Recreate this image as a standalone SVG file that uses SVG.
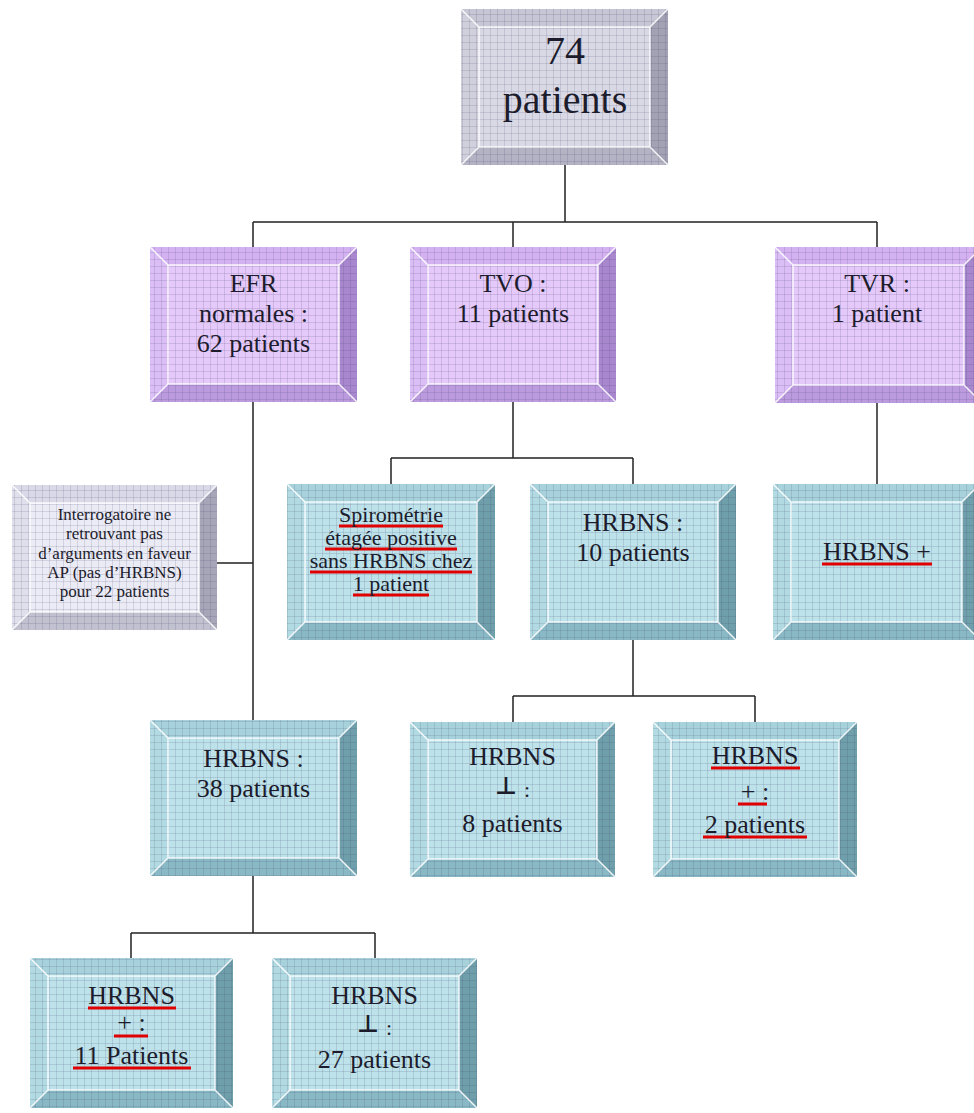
<svg xmlns="http://www.w3.org/2000/svg" width="974" height="1113" viewBox="0 0 974 1113">
<style>
.gray .f{fill:#d9d9e6}.gray .t{fill:#c6c6d4}.gray .l{fill:#d0d0dd}.gray .r{fill:#a2a2b4}.gray .b{fill:#b3b3c3}
.purple .f{fill:#e4c9fa}.purple .t{fill:#d4b2f2}.purple .l{fill:#dabef5}.purple .r{fill:#a987cf}.purple .b{fill:#bb9ade}
.teal .f{fill:#bde2ea}.teal .t{fill:#a7d2dc}.teal .l{fill:#b2dae2}.teal .r{fill:#6e9fab}.teal .b{fill:#89b9c5}
.light .f{fill:#ebebf5}.light .t{fill:#d9d9e7}.light .l{fill:#e0e0ec}.light .r{fill:#a6a6b8}.light .b{fill:#c1c1d0}
.grid{fill:url(#grid)}
.w{fill:none;stroke:#ffffff;stroke-width:1.5;opacity:0.85}
text{font-family:'Liberation Serif','DejaVu Serif',serif;fill:#1c1c2c;text-anchor:middle}
.big{font-size:40px}
.m{font-size:26px}
.s{font-size:22px}
.xs{font-size:17px}
.perp{font-size:24px;font-weight:bold;font-family:'DejaVu Sans',sans-serif}
.colon{font-size:22px}
.conn{fill:none;stroke:#222222;stroke-width:1.5}
.ul{stroke:#e00000;stroke-width:3;fill:none}
</style>
<defs>
<pattern id="grid" width="7" height="7" patternUnits="userSpaceOnUse">
<path d="M0 0.5H7M0.5 0V7" stroke="#3c3c64" stroke-opacity="0.15" stroke-width="1" fill="none"/>
</pattern>
</defs>
<rect width="974" height="1113" fill="#ffffff"/>

<g id="connectors">
<path class="conn" d="M565 165V222M253 222H877M253 222V247M513 222V247M877 222V247"/>
<path class="conn" d="M253 402V720M217 563H253"/>
<path class="conn" d="M513 402V458M391 458H633M391 458V484M633 458V484"/>
<path class="conn" d="M877 403V484"/>
<path class="conn" d="M633 640V696M513 696H755M513 696V722M755 696V722"/>
<path class="conn" d="M253 876V933M131 933H375M131 933V958M375 933V958"/>
</g>

<g id="n-74" class="gray">
<polygon class="t" points="461,9 668,9 650,27 479,27"/>
<polygon class="l" points="461,9 479,27 479,147 461,165"/>
<polygon class="r" points="668,9 668,165 650,147 650,27"/>
<polygon class="b" points="461,165 479,147 650,147 668,165"/>
<rect class="f" x="479" y="27" width="171" height="120"/>
<rect class="grid" x="461" y="9" width="207" height="156"/>
<path class="w" d="M479 27H650V147H479ZM461 9L479 27M668 9L650 27M461 165L479 147M668 165L650 147"/>
<text class="big" x="565" y="64">74</text>
<text class="big" x="565" y="113">patients</text>
</g>

<g id="n-efr" class="purple">
<polygon class="t" points="150,247 357,247 339,265 168,265"/>
<polygon class="l" points="150,247 168,265 168,384 150,402"/>
<polygon class="r" points="357,247 357,402 339,384 339,265"/>
<polygon class="b" points="150,402 168,384 339,384 357,402"/>
<rect class="f" x="168" y="265" width="171" height="119"/>
<rect class="grid" x="150" y="247" width="207" height="155"/>
<path class="w" d="M168 265H339V384H168ZM150 247L168 265M357 247L339 265M150 402L168 384M357 402L339 384"/>
<text class="m" x="253.5" y="292">EFR</text>
<text class="m" x="253.5" y="322">normales :</text>
<text class="m" x="253.5" y="352">62 patients</text>
</g>

<g id="n-tvo" class="purple">
<polygon class="t" points="410,247 616,247 598,265 428,265"/>
<polygon class="l" points="410,247 428,265 428,384 410,402"/>
<polygon class="r" points="616,247 616,402 598,384 598,265"/>
<polygon class="b" points="410,402 428,384 598,384 616,402"/>
<rect class="f" x="428" y="265" width="170" height="119"/>
<rect class="grid" x="410" y="247" width="206" height="155"/>
<path class="w" d="M428 265H598V384H428ZM410 247L428 265M616 247L598 265M410 402L428 384M616 402L598 384"/>
<text class="m" x="513" y="292">TVO :</text>
<text class="m" x="513" y="322">11 patients</text>
</g>

<g id="n-tvr" class="purple">
<polygon class="t" points="775,247 982,247 964,265 793,265"/>
<polygon class="l" points="775,247 793,265 793,385 775,403"/>
<polygon class="r" points="982,247 982,403 964,385 964,265"/>
<polygon class="b" points="775,403 793,385 964,385 982,403"/>
<rect class="f" x="793" y="265" width="171" height="120"/>
<rect class="grid" x="775" y="247" width="207" height="156"/>
<path class="w" d="M793 265H964V385H793ZM775 247L793 265M982 247L964 265M775 403L793 385M982 403L964 385"/>
<text class="m" x="877" y="292">TVR :</text>
<text class="m" x="877" y="322">1 patient</text>
</g>

<g id="n-interrogatoire" class="light">
<polygon class="t" points="12,485 217,485 199,503 30,503"/>
<polygon class="l" points="12,485 30,503 30,612 12,630"/>
<polygon class="r" points="217,485 217,630 199,612 199,503"/>
<polygon class="b" points="12,630 30,612 199,612 217,630"/>
<rect class="f" x="30" y="503" width="169" height="109"/>
<rect class="grid" x="12" y="485" width="205" height="145"/>
<path class="w" d="M30 503H199V612H30ZM12 485L30 503M217 485L199 503M12 630L30 612M217 630L199 612"/>
<text class="xs" x="114.5" y="520">Interrogatoire ne</text>
<text class="xs" x="114.5" y="539">retrouvant pas</text>
<text class="xs" x="114.5" y="559">d’arguments en faveur</text>
<text class="xs" x="114.5" y="578">AP (pas d’HRBNS)</text>
<text class="xs" x="114.5" y="597">pour 22 patients</text>
</g>

<g id="n-spirometrie" class="teal">
<polygon class="t" points="287,484 495,484 477,502 305,502"/>
<polygon class="l" points="287,484 305,502 305,622 287,640"/>
<polygon class="r" points="495,484 495,640 477,622 477,502"/>
<polygon class="b" points="287,640 305,622 477,622 495,640"/>
<rect class="f" x="305" y="502" width="172" height="120"/>
<rect class="grid" x="287" y="484" width="208" height="156"/>
<path class="w" d="M305 502H477V622H305ZM287 484L305 502M495 484L477 502M287 640L305 622M495 640L477 622"/>
<path class="ul" d="M339 526H443M325 549H457M310 572H472M353 595H429"/>
<text class="s" x="391" y="522">Spirométrie</text>
<text class="s" x="391" y="545">étagée positive</text>
<text class="s" x="391" y="568">sans HRBNS chez</text>
<text class="s" x="391" y="591">1 patient</text>
</g>

<g id="n-hrbns10" class="teal">
<polygon class="t" points="530,484 736,484 718,502 548,502"/>
<polygon class="l" points="530,484 548,502 548,622 530,640"/>
<polygon class="r" points="736,484 736,640 718,622 718,502"/>
<polygon class="b" points="530,640 548,622 718,622 736,640"/>
<rect class="f" x="548" y="502" width="170" height="120"/>
<rect class="grid" x="530" y="484" width="206" height="156"/>
<path class="w" d="M548 502H718V622H548ZM530 484L548 502M736 484L718 502M530 640L548 622M736 640L718 622"/>
<text class="m" x="633" y="531">HRBNS :</text>
<text class="m" x="633" y="561">10 patients</text>
</g>

<g id="n-hrbns-plus-tvr" class="teal">
<polygon class="t" points="773,484 980,484 962,502 791,502"/>
<polygon class="l" points="773,484 791,502 791,622 773,640"/>
<polygon class="r" points="980,484 980,640 962,622 962,502"/>
<polygon class="b" points="773,640 791,622 962,622 980,640"/>
<rect class="f" x="791" y="502" width="171" height="120"/>
<rect class="grid" x="773" y="484" width="207" height="156"/>
<path class="w" d="M791 502H962V622H791ZM773 484L791 502M980 484L962 502M773 640L791 622M980 640L962 622"/>
<path class="ul" d="M822 564H932"/>
<text class="m" x="877" y="560">HRBNS +</text>
</g>

<g id="n-hrbns38" class="teal">
<polygon class="t" points="150,720 357,720 339,738 168,738"/>
<polygon class="l" points="150,720 168,738 168,858 150,876"/>
<polygon class="r" points="357,720 357,876 339,858 339,738"/>
<polygon class="b" points="150,876 168,858 339,858 357,876"/>
<rect class="f" x="168" y="738" width="171" height="120"/>
<rect class="grid" x="150" y="720" width="207" height="156"/>
<path class="w" d="M168 738H339V858H168ZM150 720L168 738M357 720L339 738M150 876L168 858M357 876L339 858"/>
<text class="m" x="253.5" y="767">HRBNS :</text>
<text class="m" x="253.5" y="797">38 patients</text>
</g>

<g id="n-hrbns-neg8" class="teal">
<polygon class="t" points="410,722 615,722 597,740 428,740"/>
<polygon class="l" points="410,722 428,740 428,859 410,877"/>
<polygon class="r" points="615,722 615,877 597,859 597,740"/>
<polygon class="b" points="410,877 428,859 597,859 615,877"/>
<rect class="f" x="428" y="740" width="169" height="119"/>
<rect class="grid" x="410" y="722" width="205" height="155"/>
<path class="w" d="M428 740H597V859H428ZM410 722L428 740M615 722L597 740M410 877L428 859M615 877L597 859"/>
<text class="m" x="512.5" y="765">HRBNS</text>
<text class="perp" x="506" y="794">⊥</text>
<text class="colon" x="527" y="797">:</text>
<text class="m" x="512.5" y="832">8 patients</text>
</g>

<g id="n-hrbns-pos2" class="teal">
<polygon class="t" points="653,722 857,722 839,740 671,740"/>
<polygon class="l" points="653,722 671,740 671,859 653,877"/>
<polygon class="r" points="857,722 857,877 839,859 839,740"/>
<polygon class="b" points="653,877 671,859 839,859 857,877"/>
<rect class="f" x="671" y="740" width="168" height="119"/>
<rect class="grid" x="653" y="722" width="204" height="155"/>
<path class="w" d="M671 740H839V859H671ZM653 722L671 740M857 722L839 740M653 877L671 859M857 877L839 859"/>
<path class="ul" d="M711 768H800M738 804H767M703 837H807"/>
<text class="m" x="755" y="764">HRBNS</text>
<text class="m" x="755" y="800">+ :</text>
<text class="m" x="755" y="833">2 patients</text>
</g>

<g id="n-hrbns-pos11" class="teal">
<polygon class="t" points="30,958 233,958 215,976 48,976"/>
<polygon class="l" points="30,958 48,976 48,1090 30,1108"/>
<polygon class="r" points="233,958 233,1108 215,1090 215,976"/>
<polygon class="b" points="30,1108 48,1090 215,1090 233,1108"/>
<rect class="f" x="48" y="976" width="167" height="114"/>
<rect class="grid" x="30" y="958" width="203" height="150"/>
<path class="w" d="M48 976H215V1090H48ZM30 958L48 976M233 958L215 976M30 1108L48 1090M233 1108L215 1090"/>
<path class="ul" d="M88 1008H176M114 1036H148M73 1068H191"/>
<text class="m" x="131.5" y="1004">HRBNS</text>
<text class="m" x="131.5" y="1031">+ :</text>
<text class="m" x="131.5" y="1064">11 Patients</text>
</g>

<g id="n-hrbns-neg27" class="teal">
<polygon class="t" points="272,958 477,958 459,976 290,976"/>
<polygon class="l" points="272,958 290,976 290,1090 272,1108"/>
<polygon class="r" points="477,958 477,1108 459,1090 459,976"/>
<polygon class="b" points="272,1108 290,1090 459,1090 477,1108"/>
<rect class="f" x="290" y="976" width="169" height="114"/>
<rect class="grid" x="272" y="958" width="205" height="150"/>
<path class="w" d="M290 976H459V1090H290ZM272 958L290 976M477 958L459 976M272 1108L290 1090M477 1108L459 1090"/>
<text class="m" x="374.5" y="1004">HRBNS</text>
<text class="perp" x="368" y="1032">⊥</text>
<text class="colon" x="389" y="1035">:</text>
<text class="m" x="374.5" y="1068">27 patients</text>
</g>
</svg>
